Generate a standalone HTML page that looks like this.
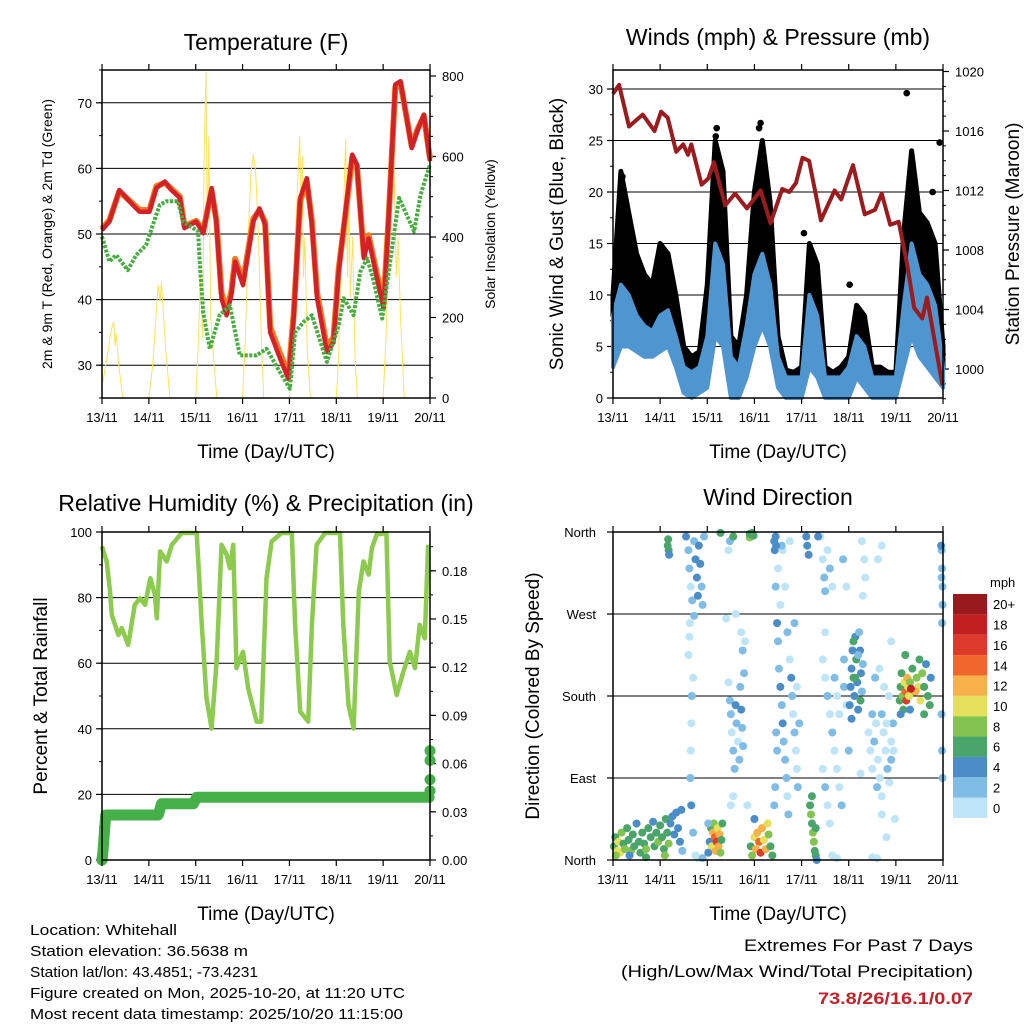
<!DOCTYPE html>
<html><head><meta charset="utf-8"><style>
html,body{margin:0;padding:0;background:#fff;}
svg{display:block;font-family:"Liberation Sans",Arial,sans-serif;}
</style></head><body>
<svg id="chart" width="1024" height="1024" viewBox="0 0 1024 1024" xmlns="http://www.w3.org/2000/svg">
<rect width="1024" height="1024" fill="#fff"/>
<g id="layer"></g>
<g font-size="15" fill="#000">
<text x="30" y="935" textLength="147" lengthAdjust="spacingAndGlyphs">Location: Whitehall</text>
<text x="30" y="956" textLength="218" lengthAdjust="spacingAndGlyphs">Station elevation: 36.5638 m</text>
<text x="30" y="977" textLength="228" lengthAdjust="spacingAndGlyphs">Station lat/lon: 43.4851; -73.4231</text>
<text x="30" y="998" textLength="375" lengthAdjust="spacingAndGlyphs">Figure created on Mon, 2025-10-20, at 11:20 UTC</text>
<text x="30" y="1019" textLength="373" lengthAdjust="spacingAndGlyphs">Most recent data timestamp: 2025/10/20 11:15:00</text>
</g>
<g text-anchor="end">
<text x="973" y="951" font-size="17" textLength="229" lengthAdjust="spacingAndGlyphs">Extremes For Past 7 Days</text>
<text x="973" y="977" font-size="17" textLength="352" lengthAdjust="spacingAndGlyphs">(High/Low/Max Wind/Total Precipitation)</text>
<text x="973" y="1004" font-size="17" font-weight="bold" fill="#c8202a" textLength="155" lengthAdjust="spacingAndGlyphs">73.8/26/16.1/0.07</text>
</g>
</svg>
<script>
// ---------- DATA ----------
const dayLabels=["13/11","14/11","15/11","16/11","17/11","18/11","19/11","20/11"];
const tempTime=[0,0.157,0.37,0.66,0.8,1.01,1.16,1.34,1.48,1.66,1.76,2.01,2.16,2.34,2.44,2.55,2.66,2.76,2.84,3.01,3.23,3.36,3.48,3.59,3.8,3.98,4.09,4.23,4.37,4.48,4.59,4.8,4.94,5.05,5.23,5.34,5.44,5.59,5.69,5.84,6.01,6.12,6.26,6.37,6.61,6.73,6.87,7.0];
const temp2m=[50.6,51.9,56.7,54.4,53.4,53.4,57,58,56.7,55.5,50.9,51.9,50.1,57,51.9,40.2,37.6,40.7,45.8,42.2,51.9,53.9,51.4,35,31,27.9,37.1,55.5,58.5,51.4,40.2,32,33.5,44.2,55.5,62.1,60.6,46.3,49.3,44.2,38.6,52.9,72.8,73.3,63.1,65.7,68.2,61.1];
const temp9m=[50.8,52.1,56.5,54.6,53.7,53.6,57.3,57.8,56.9,55.7,51.2,52.0,50.5,56.6,52.2,41.0,38.4,41.2,46.2,42.8,52.3,53.6,51.8,35.8,31.8,28.6,37.6,55.0,58.0,52.0,41.0,32.8,34.2,44.6,55.0,61.6,60.4,46.8,49.8,44.8,39.4,53.0,72.4,73.0,63.4,65.9,68.0,61.5];
const dewTime=[0,0.157,0.3,0.55,0.73,0.94,1.23,1.37,1.62,1.73,2.05,2.09,2.16,2.3,2.51,2.73,2.94,3.3,3.51,3.8,4.01,4.12,4.3,4.48,4.8,5.05,5.16,5.37,5.51,5.66,5.8,5.98,6.16,6.34,6.66,6.8,7.0];
const dew2m=[49.6,45.8,46.8,44.5,46.8,48.3,54.4,55,55,51.9,50.4,45.3,38.1,32.5,37.6,39.1,31.5,31.5,32.5,28.9,26.4,35,36.6,37.6,30.5,36.1,40.2,37.6,44.2,46.3,42.7,37.1,46.3,55.5,50.4,56,60.6];
const solarTime=[0,0.05,0.12,0.2,0.25,0.28,0.3,0.35,0.42,0.45,1.0,1.08,1.15,1.2,1.24,1.27,1.3,1.36,1.45,2.0,2.05,2.1,2.15,2.18,2.22,2.25,2.28,2.32,2.38,2.45,3.0,3.06,3.12,3.18,3.23,3.28,3.34,3.4,3.45,4.0,4.06,4.12,4.18,4.22,4.25,4.28,4.3,4.33,4.38,4.45,5.0,5.05,5.1,5.15,5.2,5.24,5.27,5.3,5.35,5.4,5.45,6.0,6.06,6.12,6.18,6.23,6.28,6.32,6.37,6.42,6.45,7.0];
const solarWatts=[30,60,110,170,190,130,160,90,20,0,0,80,200,280,240,290,230,120,0,0,120,300,150,600,810,400,650,200,100,0,0,150,400,560,605,560,400,150,0,0,150,380,550,650,450,600,300,400,120,0,0,100,350,450,645,300,500,250,400,100,0,0,150,400,550,590,300,400,200,80,0,0];

const windTime=[0,0.167,0.333,0.5,0.667,0.833,1,1.167,1.333,1.5,1.667,1.833,2,2.167,2.333,2.5,2.667,2.833,3,3.167,3.333,3.5,3.667,3.833,4,4.167,4.333,4.5,4.667,4.833,5,5.167,5.333,5.5,5.667,5.833,6,6.167,6.333,6.5,6.667,6.833,7];
const windMax=[8,11,10,8,7,6.5,8,8.5,6,3,2.5,3,6,15,13,4,3,7,12,14,11,4,2,2,2,10,8,2,2,2,3,6,5,2,2,2,2,9,15,12,11,9,3];
const windMin=[3,5,5,4.5,4,4,4.5,5,3,0.5,0,0.5,1,6,5,0,0,2,5,7,5,1,0,0,0,3,2,0,0,0,0,2,1,0,0,0,0,3,6,4,3,2,1];
const gustMax=[10,22,18,14,12,11,15,14,10,5,4,4.5,11,25,22,6,5,10,20,25,19,6,2.7,2.5,3,15,13,3,2.5,3,4,9,8,3,3,2.5,2.5,16,24,18,17,15,5];
const gustOutlierTime=[6.23,3.13,3.1,2.2,2.18,6.93,6.35,1.0,0.2,0.25,4.05,5.02,6.78];
const gustOutlierMph=[29.6,26.7,26.2,26.2,25.4,24.8,21.8,14.5,21.5,18.5,16,11,20];
const presTime=[0,0.13,0.34,0.63,0.88,1.02,1.16,1.34,1.49,1.59,1.66,1.88,2.02,2.14,2.38,2.59,2.84,3.13,3.34,3.59,3.74,3.88,4.02,4.16,4.41,4.7,4.84,5.09,5.34,5.56,5.7,5.88,6.06,6.24,6.39,6.56,6.66,6.99];
const presMb=[1018.5,1019.1,1016.3,1017.1,1016.0,1017.3,1016.9,1014.6,1015.1,1014.4,1015.1,1012.4,1012.8,1013.9,1011.0,1011.8,1010.8,1012.0,1009.8,1012.1,1011.9,1012.5,1014.2,1014.0,1010.0,1012.0,1011.4,1013.7,1010.4,1010.7,1011.8,1009.7,1009.9,1007.0,1004.1,1003.4,1004.8,998.9];

const rhTime=[0,0.1,0.17,0.21,0.35,0.42,0.56,0.7,0.81,0.92,1.03,1.13,1.17,1.24,1.38,1.49,1.7,2.02,2.13,2.23,2.34,2.45,2.55,2.66,2.73,2.8,2.87,3.01,3.12,3.3,3.4,3.51,3.62,3.83,4.05,4.12,4.23,4.4,4.48,4.58,4.76,5.08,5.15,5.26,5.37,5.48,5.58,5.69,5.76,5.86,6.07,6.14,6.29,6.43,6.57,6.68,6.78,6.89,6.96];
const rhPct=[95.6,91,81.9,74.7,68.6,70.7,65.6,77.8,79.8,77.8,85.9,80.9,73.7,94.1,91,96.1,99.7,99.7,71.7,49.3,40.1,61.5,96.1,93.1,89,96.1,58.5,63.5,52.3,42.2,42.2,85.9,97.1,99.7,99.7,71.7,45.2,42.2,71.7,96.1,99.7,99.7,71.7,47.3,40.1,81.9,91,87,95.1,99.2,99.7,60.5,50.3,57.4,63.5,58.5,71.7,67.6,96.1];
const rainTime=[0,0.02,0.08,1.2,1.27,1.95,2.02,6.98];
const rainIn=[0,0.005,0.028,0.028,0.035,0.035,0.039,0.039];
const rainEndTime=[7,7,7,7];
const rainEndIn=[0.043,0.05,0.062,0.068];

const dirObs=[
[0.02,15,6],[0.05,25,6],[0.1,10,10],[0.12,20,9],[0.15,8,10],[0.18,30,7],[0.22,18,6],[0.25,12,8],[0.3,35,6],[0.33,22,6],[0.38,10,7],[0.42,28,5],[0.45,15,6],[0.5,40,4],[0.55,20,6],[0.58,8,6],[0.62,30,5],[0.66,18,6],[0.7,12,7],[0.75,35,6],[0.8,25,5],[0.85,42,4],[0.88,15,6],[0.92,30,6],[0.96,20,8],[1.0,38,6],[1.04,25,6],[1.08,12,6],[1.12,45,5],[1.15,30,6],[1.18,18,8],[1.22,40,4],[1.26,48,4],[1.3,28,4],[1.34,52,4],[1.38,35,4],[1.42,20,3],[1.45,55,3],[1.47,10,2],[0.06,5,8],[0.35,5,4],[0.7,3,5],[1.1,5,7],
[1.17,352,6],[1.18,340,6],[1.19,335,4],[1.16,345,5],
[1.55,355,3],[1.6,340,2],[1.62,320,2],[1.65,300,0],[1.68,285,2],[1.72,350,2],[1.75,330,4],[1.78,310,3],[1.8,290,4],[1.82,345,3],[1.85,325,3],[1.88,300,2],[1.9,280,2],[1.93,355,2],[1.72,268,2],[1.7,200,0],[1.67,180,2],[1.66,150,0],[1.65,120,0],[1.64,90,2],[1.66,60,3],[1.7,30,2],[1.75,5,0],[1.8,2,0],[1.9,2,2],[1.62,245,0],[1.63,260,0],[1.6,225,0],
[2.05,20,4],[2.08,35,6],[2.1,15,10],[2.12,30,12],[2.14,40,8],[2.16,25,14],[2.18,10,12],[2.2,20,16],[2.22,35,10],[2.24,15,12],[2.26,28,12],[2.28,8,8],[2.3,22,6],[2.32,40,6],[2.02,8,4],[2.02,40,2],
[2.45,195,0],[2.48,175,2],[2.5,160,2],[2.52,140,0],[2.55,120,2],[2.58,100,2],[2.6,170,4],[2.62,150,2],[2.65,130,0],[2.68,110,2],[2.7,190,2],[2.72,165,4],[2.74,145,2],[2.76,125,2],[2.78,205,2],[2.75,230,2],[2.72,250,0],[2.55,70,0],[2.5,60,0],[2.6,270,0],[2.48,350,2],[2.45,340,0],[2.55,355,6],[2.8,240,0],[2.85,60,0],[2.4,265,0],[2.9,354,8],[2.98,356,6],
[2.92,15,6],[2.95,5,8],[3.0,25,10],[3.03,12,12],[3.06,30,12],[3.1,20,14],[3.13,8,16],[3.16,35,12],[3.2,22,10],[3.24,12,12],[3.28,40,10],[3.3,28,8],[3.34,15,6],[3.38,5,6],[3.0,45,4],
[3.42,350,4],[3.43,340,4],[3.45,300,2],[3.48,260,4],[3.5,240,2],[3.52,210,2],[3.55,190,4],[3.58,170,2],[3.6,150,4],[3.62,130,2],[3.65,110,2],[3.68,90,2],[3.7,70,0],[3.72,50,2],[3.46,140,2],[3.48,120,2],[3.44,80,2],[3.42,60,2],[3.5,320,0],[3.55,280,0],[3.6,340,0],[3.65,300,0],[3.7,250,2],[3.75,220,0],[3.78,200,4],[3.8,180,2],[3.82,160,0],[3.85,140,2],[3.88,120,0],[3.9,100,0],[3.92,80,2],[3.75,350,0],[3.85,260,2],[3.9,190,0],[3.95,150,2],[3.58,345,2],
[4.18,60,6],[4.2,50,8],[4.22,40,6],[4.24,30,8],[4.26,20,8],[4.28,10,6],[4.3,5,6],[4.32,0,4],[4.22,70,6],[4.3,35,6],[4.1,355,4],[4.12,345,4],[4.15,335,4],
[4.4,355,0],[4.45,330,0],[4.48,310,2],[4.5,295,2],[4.55,340,0],[4.6,320,2],[4.65,300,0],[4.45,220,0],[4.5,200,0],[4.55,180,2],[4.6,160,0],[4.65,140,2],[4.7,120,0],[4.75,100,0],[4.8,80,0],[4.85,60,2],[4.45,100,0],[4.5,80,2],[4.55,60,0],[4.6,40,0],[4.7,200,2],[4.75,180,0],[4.8,160,0],[4.9,190,2],[4.95,170,0],[4.65,5,0],[4.75,2,0],[4.9,220,2],[4.5,250,0],[4.88,330,2],
[5.02,170,4],[5.04,190,4],[5.06,210,4],[5.08,230,4],[5.1,200,6],[5.12,180,4],[5.14,245,4],[5.16,220,6],[5.18,195,4],[5.2,165,4],[5.22,250,2],[5.24,230,4],[5.26,205,4],[5.28,185,2],[5.3,215,2],[5.06,155,4],[5.1,240,6],[5.14,200,6],[5.2,225,2],[5.25,175,6],[5.3,290,0],[5.33,330,0],[5.35,310,0],[5.0,120,2],[4.95,300,0],[5.25,95,0],[5.28,350,0],
[5.42,140,0],[5.46,120,0],[5.5,100,0],[5.54,130,2],[5.58,150,0],[5.62,110,0],[5.66,90,0],[5.7,160,2],[5.74,140,0],[5.78,120,0],[5.82,100,2],[5.86,85,0],[5.9,130,0],[5.94,150,2],[5.5,160,2],[5.6,80,2],[5.7,70,0],[5.8,150,0],[5.9,110,2],[5.56,200,2],[5.65,210,0],[5.75,190,0],[5.85,180,0],[5.95,120,0],[5.5,3,0],[5.6,2,0],[5.8,25,0],[5.7,50,0],[5.98,45,0],[5.62,330,0],[5.7,345,0],[5.9,240,0],
[6.08,175,6],[6.1,190,6],[6.12,205,6],[6.14,180,8],[6.16,165,6],[6.18,195,10],[6.2,185,14],[6.22,175,16],[6.24,200,12],[6.26,190,10],[6.28,180,10],[6.3,195,8],[6.35,210,6],[6.4,185,8],[6.44,200,8],[6.48,190,10],[6.52,175,10],[6.56,205,8],[6.6,190,6],[6.64,215,4],[6.68,180,6],[6.72,170,6],[6.74,200,4],[6.2,225,6],[6.5,220,6],[6.1,160,4],[6.3,165,4],[6.6,160,6],[6.42,185,12],[6.32,188,18],
[6.97,340,2],[6.98,320,2],[6.99,300,2],[6.99,280,2],[6.98,260,2],[6.97,160,2],[6.98,120,2],[6.99,90,2],[6.96,345,4],[6.97,310,2],
[2.28,359,6],[2.9,358,6],[2.95,359,6],[3.45,355,4],[3.46,345,4],[4.35,355,4]];
const speedLabels=["0","2","4","6","8","10","12","14","16","18","20+"];
const speedColors=["#bde5f7","#80bde6","#4a8dc8","#49a56a","#83c34f","#e5e05c","#f7b04a","#f0672b","#dd3a2b","#c21f20","#98191b"];
const dirLabels=["North","East","South","West","North"];
const dirTicks=[0,90,180,270,360];

// ---------- HELPERS ----------
const NS="http://www.w3.org/2000/svg";
const layer=document.getElementById('layer');
const DW=328/7;
function mk(tag,attrs,parent){const e=document.createElementNS(NS,tag);for(const k in attrs)e.setAttribute(k,attrs[k]);(parent||layer).appendChild(e);return e;}
function txt(s,x,y,attrs,parent){const e=mk('text',Object.assign({x:x,y:y},attrs),parent);e.textContent=s;return e;}
function pathOf(xs,ys){return xs.map((x,i)=>(i?'L':'M')+x.toFixed(1)+' '+ys[i].toFixed(1)).join(' ');}

function frame(P,name){
  const g=mk('g',{});
  
  
  return g;
}
function xAxis(P,g){
  for(let d=0;d<dayLabels.length;d++){
    const x=P.x0+d*DW;
    mk('line',{x1:x,y1:P.y1,x2:x,y2:P.y1+6,stroke:'#000','stroke-width':1.2},g);
    mk('line',{x1:x,y1:P.y0,x2:x,y2:P.y0-6,stroke:'#000','stroke-width':1.2},g);
    const t=txt(dayLabels[d],x,P.y1+24,{'font-size':13,'text-anchor':'middle'},g);
    
    
  }
  const lab=txt('Time (Day/UTC)',(P.x0+P.x1)/2,P.y1+60,{'font-size':19,'text-anchor':'middle'},g);
  
  
}
function border(P,g){mk('rect',{x:P.x0,y:P.y0,width:P.x1-P.x0,height:P.y1-P.y0,fill:'none',stroke:'#000','stroke-width':1.5},g);}
function leftAxis(P,g,ticks,labels,yf,minor,grid){
  minor.forEach(v=>{const y=yf(v);mk('line',{x1:P.x0,y1:y,x2:P.x0-3,y2:y,stroke:'#000','stroke-width':1},g);});
  ticks.forEach((v,i)=>{const y=yf(v);
    if(grid) mk('line',{x1:P.x0,y1:y,x2:P.x1,y2:y,stroke:'#000','stroke-width':1},g);
    mk('line',{x1:P.x0,y1:y,x2:P.x0-6,y2:y,stroke:'#000','stroke-width':1.2},g);
    const t=txt(labels[i],P.x0-10,y+5,{'font-size':13,'text-anchor':'end'},g);
    
    
  });
}
function rightAxis(P,g,ticks,labels,yf,minor){
  minor.forEach(v=>{const y=yf(v);mk('line',{x1:P.x1,y1:y,x2:P.x1+3,y2:y,stroke:'#000','stroke-width':1},g);});
  ticks.forEach((v,i)=>{const y=yf(v);
    mk('line',{x1:P.x1,y1:y,x2:P.x1+6,y2:y,stroke:'#000','stroke-width':1.2},g);
    const t=txt(labels[i],P.x1+12,y+5,{'font-size':13},g);
    
    
  });
}
function rotLabel(s,x,y,size,g,name){
  const t=txt(s,x,y,{'font-size':size,'text-anchor':'middle',transform:'rotate(-90 '+x+' '+y+')'},g);
  
  
}
function title(s,x,y,g,name){
  const t=txt(s,x,y,{'font-size':23,'text-anchor':'middle'},g);
  
  
}
function range(a,b,s){const r=[];for(let v=a;v<=b+1e-9;v+=s)r.push(+v.toFixed(4));return r;}

// ---------- PANEL 1: TEMPERATURE ----------
(function(){
  const P={x0:102,y0:70,x1:430,y1:398};
  const g=frame(P,'temperature-panel');
  const X=t=>P.x0+t*DW, Y=v=>P.y1-(v-25)*6.56, YS=w=>P.y1-w*0.4025;
  leftAxis(P,g,[30,40,50,60,70],['30','40','50','60','70'],Y,range(25,75,5),true);
  rightAxis(P,g,[0,200,400,600,800],['0','200','400','600','800'],YS,range(0,800,50));
  const s=mk('path',{d:pathOf(solarTime.map(X),solarWatts.map(YS)),fill:'none',stroke:'#fde35a','stroke-width':1},g);
  
  
  const o=mk('path',{d:pathOf(tempTime.map(X),temp9m.map(Y)),fill:'none',stroke:'#f47b20','stroke-width':6,'stroke-linejoin':'round'},g);
  
  
  const r=mk('path',{d:pathOf(tempTime.map(X),temp2m.map(Y)),fill:'none',stroke:'#d42027','stroke-width':4.5,'stroke-linejoin':'round'},g);
  
  
  const d=mk('path',{d:pathOf(dewTime.map(X),dew2m.map(Y)),fill:'none',stroke:'#47ad42','stroke-width':4,'stroke-dasharray':'3 1.5','stroke-linejoin':'round'},g);
  
  
  border(P,g);xAxis(P,g);
  title('Temperature (F)',266,50,g,'temperature-title');
  rotLabel('2m & 9m T (Red, Orange) & 2m Td (Green)',52,234,14,g,'temperature-y-title');
  rotLabel('Solar Insolation (Yellow)',495,234,14,g,'solar-y-title');
})();

// ---------- PANEL 2: WINDS ----------
(function(){
  const P={x0:613,y0:70,x1:943,y1:398};
  const DWw=(P.x1-P.x0)/7;
  const g=frame(P,'winds-panel');
  const X=t=>P.x0+t*DWw, Y=m=>P.y1-m*10.3, YP=p=>369-(p-1000)*14.875;
  leftAxis(P,g,[0,5,10,15,20,25,30],['0','5','10','15','20','25','30'],Y,range(0,31,2.5),true);
  rightAxis(P,g,[1000,1004,1008,1012,1016,1020],['1000','1004','1008','1012','1016','1020'],YP,range(998,1020,1));
  const gx=windTime.map(X);
  const gust=mk('path',{d:pathOf(gx.concat(gx.slice().reverse()),gustMax.map(Y).concat(windMax.map(Y).reverse()))+'Z',fill:'#000',stroke:'#000','stroke-width':5,'stroke-linejoin':'round'},g);
  
  
  gustOutlierTime.forEach((t,i)=>{const c=mk('circle',{cx:X(t),cy:Y(gustOutlierMph[i]),r:3.3,fill:'#000'},g);
    
    });
  const wind=mk('path',{d:pathOf(gx.concat(gx.slice().reverse()),windMax.map(Y).concat(windMin.map(Y).reverse()))+'Z',fill:'#4f96d0',stroke:'#4f96d0','stroke-width':4,'stroke-linejoin':'round'},g);
  
  
  const p=mk('path',{d:pathOf(presTime.map(X),presMb.map(YP)),fill:'none',stroke:'#9b1b1e','stroke-width':4,'stroke-linejoin':'round'},g);
  
  
  border(P,g);
  for(let d=0;d<dayLabels.length;d++){const x=X(d);
    mk('line',{x1:x,y1:P.y1,x2:x,y2:P.y1+6,stroke:'#000','stroke-width':1.2},g);
    mk('line',{x1:x,y1:P.y0,x2:x,y2:P.y0-6,stroke:'#000','stroke-width':1.2},g);
    const t=txt(dayLabels[d],x,P.y1+24,{'font-size':13,'text-anchor':'middle'},g);
    
    }
  const lab=txt('Time (Day/UTC)',778,P.y1+60,{'font-size':19,'text-anchor':'middle'},g);
  
  
  title('Winds (mph) & Pressure (mb)',778,45,g,'winds-title');
  rotLabel('Sonic Wind & Gust (Blue, Black)',563,234,19,g,'wind-y-title');
  rotLabel('Station Pressure (Maroon)',1019,234,19,g,'pressure-y-title');
})();

// ---------- PANEL 3: RH & RAIN ----------
(function(){
  const P={x0:102,y0:532,x1:430,y1:860};
  const g=frame(P,'humidity-panel');
  const X=t=>P.x0+t*DW, Y=v=>P.y1-v*3.28, YR=r=>P.y1-r/0.03*48.2;
  leftAxis(P,g,[0,20,40,60,80,100],['0','20','40','60','80','100'],Y,range(0,100,10),true);
  rightAxis(P,g,[0,0.03,0.06,0.09,0.12,0.15,0.18],['0.00','0.03','0.06','0.09','0.12','0.15','0.18'],YR,range(0,0.2,0.015));
  const rh=mk('path',{d:pathOf(rhTime.map(X),rhPct.map(Y)),fill:'none',stroke:'#8ccb4e','stroke-width':4.5,'stroke-linejoin':'round'},g);
  
  
  const rn=mk('path',{d:pathOf(rainTime.map(X),rainIn.map(YR)),fill:'none',stroke:'#45b048','stroke-width':11,'stroke-linejoin':'round','stroke-linecap':'round'},g);
  
  
  rainEndTime.forEach((t,i)=>{const c=mk('circle',{cx:X(t),cy:YR(rainEndIn[i]),r:5.5,fill:'#45b048'},g);
    
    });
  const c0=mk('circle',{cx:X(0),cy:YR(0),r:5.5,fill:'#45b048'},g);
  
  
  border(P,g);xAxis(P,g);
  title('Relative Humidity (%) & Precipitation (in)',266,511,g,'humidity-title');
  rotLabel('Percent & Total Rainfall',47,696,19,g,'humidity-y-title');
})();

// ---------- PANEL 4: WIND DIRECTION ----------
(function(){
  const P={x0:613,y0:532,x1:943,y1:860};
  const DWw=(P.x1-P.x0)/7;
  const g=frame(P,'wind-direction-panel');
  const X=t=>P.x0+t*DWw, Y=d=>P.y1-d/360*328;
  dirTicks.forEach((v,i)=>{const y=Y(v);
    mk('line',{x1:P.x0,y1:y,x2:P.x1,y2:y,stroke:'#000','stroke-width':1},g);
    mk('line',{x1:P.x0,y1:y,x2:P.x0-6,y2:y,stroke:'#000','stroke-width':1.2},g);
    const t=txt(dirLabels[i],P.x0-17,y+5,{'font-size':13,'text-anchor':'end'},g);
    
    });
  dirObs.forEach(o=>{
    const bin=Math.min(10,Math.max(0,Math.round(o[2]/2)));
    const c=mk('circle',{cx:X(o[0]),cy:Y(o[1]),r:4,fill:speedColors[bin]},g);
    
    
  });
  border(P,g);
  for(let d=0;d<dayLabels.length;d++){const x=X(d);
    mk('line',{x1:x,y1:P.y1,x2:x,y2:P.y1+6,stroke:'#000','stroke-width':1.2},g);
    mk('line',{x1:x,y1:P.y0,x2:x,y2:P.y0-6,stroke:'#000','stroke-width':1.2},g);
    const t=txt(dayLabels[d],x,P.y1+24,{'font-size':13,'text-anchor':'middle'},g);
    
    }
  const lab=txt('Time (Day/UTC)',778,P.y1+60,{'font-size':19,'text-anchor':'middle'},g);
  
  
  title('Wind Direction',778,505,g,'wind-direction-title');
  rotLabel('Direction (Colored By Speed)',539,696,19,g,'direction-y-title');
  const cb=mk('g',{},g);
  
  
  const h=224/11;
  const u=txt('mph',990,587,{'font-size':13},cb);
  
  
  speedLabels.forEach((s,i)=>{const y=818-(i+1)*h;
    const r=mk('rect',{x:953,y:y,width:34,height:h,fill:speedColors[i]},cb);
    
    
    const t=txt(s,993,y+h/2+5,{'font-size':13},cb);
    
    });
})();
</script>
</body></html>
